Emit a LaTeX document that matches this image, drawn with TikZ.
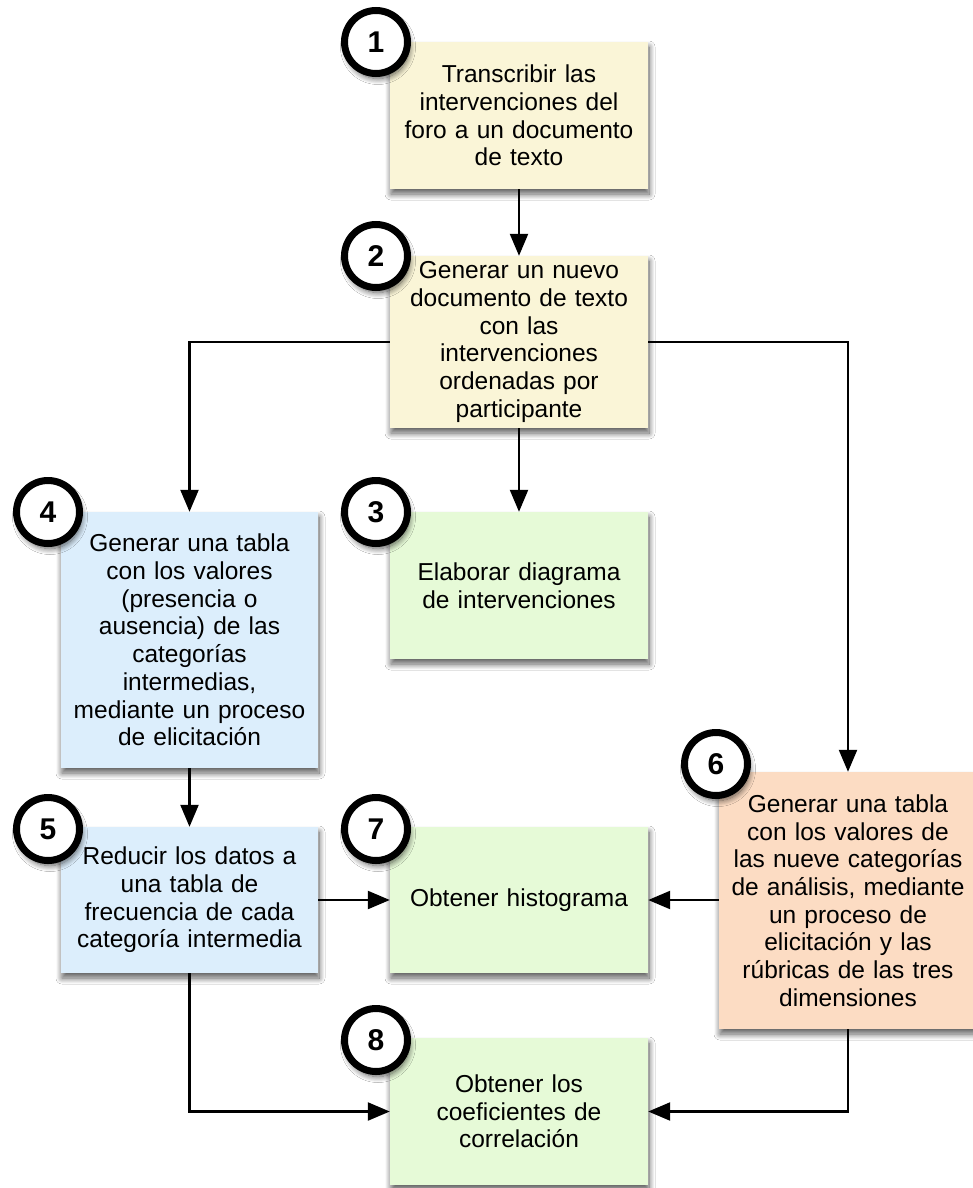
\documentclass[tikz,border=0pt]{standalone}
\usepackage{fontspec}
\setmainfont{Liberation Sans}
\usetikzlibrary{arrows.meta,shadows.blur}
\definecolor{yel}{RGB}{250,245,215}
\definecolor{grn}{RGB}{230,250,215}
\definecolor{blu}{RGB}{220,238,252}
\definecolor{org}{RGB}{252,220,195}
\begin{document}
\begin{tikzpicture}[x=1pt,y=-1pt,
  box/.style={inner sep=0pt, align=center, text width=250pt, minimum width=258pt,
    font=\fontsize{24.5}{27.7}\selectfont,
    blur shadow={shadow xshift=1pt, shadow yshift=-5pt, shadow blur steps=12, shadow blur radius=6pt, shadow opacity=65}},
  num/.style={circle, draw=black, line width=7pt, fill=white, minimum size=63pt, inner sep=0pt,
    font=\fontsize{30}{30}\selectfont\bfseries,
    blur shadow={shadow xshift=2pt, shadow yshift=-5pt, shadow blur steps=12, shadow blur radius=6pt, shadow opacity=65}},
  arr/.style={line width=2.3pt, -{Triangle[length=22pt,width=18pt]}}
]
\clip (0,0) rectangle (973,1188);
\fill[white] (0,0) rectangle (973,1188);

\node[box, fill=yel, minimum height=147pt] (b1) at (519,115.5) {Transcribir las\\intervenciones del\\foro a un documento\\de texto};
\node[box, fill=yel, minimum height=172pt] (b2) at (519,342) {Generar un nuevo\\documento de texto\\con las\\intervenciones\\ordenadas por\\participante};
\node[box, fill=grn, minimum height=147pt] (b3) at (519,585.5) {Elaborar diagrama\\de intervenciones};
\node[box, fill=blu, minimum width=257pt, minimum height=256pt] (b4) at (189.5,640) {Generar una tabla\\con los valores\\(presencia o\\ausencia) de las\\categorías\\intermedias,\\mediante un proceso\\de elicitación};
\node[box, fill=blu, minimum width=257pt, minimum height=146pt] (b5) at (189.5,900) {Reducir los datos a\\una tabla de\\frecuencia de cada\\categoría intermedia};
\node[box, fill=grn, minimum height=146pt] (b7) at (519,900) {Obtener histograma};
\node[box, fill=org, minimum height=257pt] (b6) at (848,900.5) {Generar una tabla\\con los valores de\\las nueve categorías\\de análisis, mediante\\un proceso de\\elicitación y las\\rúbricas de las tres\\dimensiones};
\node[box, fill=grn, minimum height=147pt] (b8) at (519,1111.5) {Obtener los\\coeficientes de\\correlación};

\draw[arr] (b1) -- (b2);
\draw[arr] (b2.west) -| (b4.north);
\draw[arr] (b2) -- (b3);
\draw[arr] (b2.east) -| (b6.north);
\draw[arr] (b4) -- (b5);
\draw[arr] (b5) -- (b7);
\draw[arr] (b6.west |- b7.east) -- (b7.east);
\draw[arr] (b5.south) |- (b8.west);
\draw[arr] (b6.south) |- (b8.east);

\node[num] (n1) at (376,42) {1};
\node[num] (n2) at (376,256) {2};
\node[num] (n3) at (376,512) {3};
\node[num] (n4) at (48,512) {4};
\node[num] (n5) at (48,829) {5};
\node[num] (n7) at (376,829) {7};
\node[num] (n6) at (716,764) {6};
\node[num] (n8) at (376,1040) {8};
\end{tikzpicture}
\end{document}
